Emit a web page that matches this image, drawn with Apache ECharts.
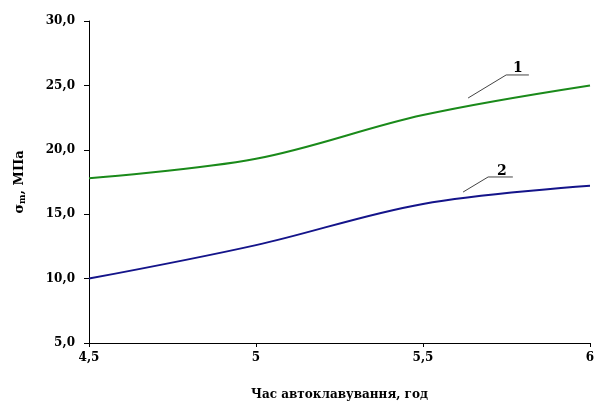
<!DOCTYPE html>
<html>
<head>
<meta charset="utf-8">
<script src="https://cdn.jsdelivr.net/npm/echarts@6/dist/echarts.min.js"></script>
<style>html,body{margin:0;padding:0;background:#fff}#c{width:598px;height:406px}</style>
</head>
<body>
<div id="c"></div>
<script>
var xValues = [4.5, 5, 5.5, 6];
var series1 = [17.8, 19.3, 22.7, 25.0];
var series2 = [10.0, 12.6, 15.8, 17.2];
var xTickLabels = {4.5: '4,5', 5: '5', 5.5: '5,5', 6: '6'};
var leader1 = [[5.635, 24.02], [5.749, 25.81], [5.817, 25.81]];
var leader2 = [[5.62, 16.72], [5.695, 17.89], [5.769, 17.89]];
var labelPoints = [[5.784, 26.35, '1'], [5.736, 18.3, '2']];

var font = '"DejaVu Serif", serif';
function pairs(xs, ys) { return xs.map(function (x, i) { return [x, ys[i]]; }); }

var chart = echarts.init(document.getElementById('c'));
chart.setOption({
  animation: false,
  backgroundColor: '#fff',
  grid: {left: 89, right: 8, top: 21, bottom: 63},
  xAxis: {
    type: 'value', min: 4.5, max: 6, interval: 0.5,
    name: 'Час автоклавування, год', nameLocation: 'middle', nameGap: 46,
    nameTextStyle: {fontFamily: font, fontWeight: 'bold', fontSize: 12, color: '#000'},
    axisLine: {lineStyle: {color: '#000', width: 1}},
    axisTick: {show: true, length: 4, lineStyle: {color: '#000'}},
    axisLabel: {fontFamily: font, fontWeight: 'bold', fontSize: 12, color: '#000', margin: 9,
      formatter: function (v) { return xTickLabels[v] !== undefined ? xTickLabels[v] : String(v).replace('.', ','); }},
    splitLine: {show: false}
  },
  yAxis: {
    type: 'value', min: 5, max: 30, interval: 5,
    name: '{a|σ}{b|m}{a|, МПа}', nameLocation: 'middle', nameGap: 62, nameRotate: 90,
    nameTextStyle: {fontFamily: font, color: '#000',
      rich: {a: {fontFamily: font, fontWeight: 'bold', fontSize: 13, color: '#000'},
             b: {fontFamily: font, fontWeight: 'bold', fontSize: 9, color: '#000', verticalAlign: 'bottom', padding: [6, 0, 0, 0]}}},
    axisLine: {show: true, lineStyle: {color: '#000', width: 1}},
    axisTick: {show: true, length: 5, lineStyle: {color: '#000'}},
    axisLabel: {fontFamily: font, fontWeight: 'bold', fontSize: 12, color: '#000', margin: 14,
      formatter: function (v) { return v.toFixed(1).replace('.', ','); }},
    splitLine: {show: false}
  },
  series: [
    {type: 'line', data: pairs(xValues, series1), smooth: 0.35, symbol: 'none',
      lineStyle: {color: '#1a8a1a', width: 2}},
    {type: 'line', data: pairs(xValues, series2), smooth: 0.35, symbol: 'none',
      lineStyle: {color: '#14148a', width: 2}},
    {type: 'line', data: leader1, smooth: false, symbol: 'none', lineStyle: {color: '#444', width: 1}},
    {type: 'line', data: leader2, smooth: false, symbol: 'none', lineStyle: {color: '#444', width: 1}},
    {type: 'scatter', symbolSize: 1, itemStyle: {color: 'rgba(0,0,0,0)'}, silent: true,
      data: labelPoints.map(function (p) { return {value: [p[0], p[1]], name: p[2]}; }),
      label: {show: true, position: 'inside', formatter: '{b}', fontFamily: font, fontWeight: 'bold', fontSize: 14, color: '#000', opacity: 1}}
  ]
});
</script>
</body>
</html>
